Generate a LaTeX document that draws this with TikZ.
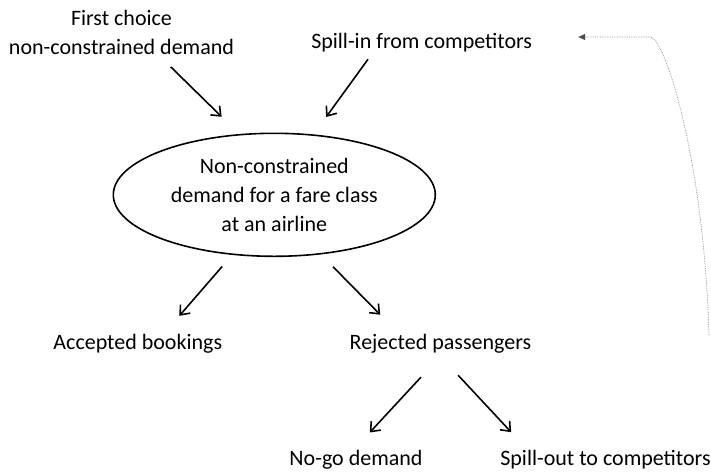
\documentclass[tikz,border=0pt]{standalone}
\usepackage{fontspec}
\setmainfont{Carlito}
\usetikzlibrary{shapes.geometric, arrows.meta, positioning}
\tikzset{every node/.style={font=\fontsize{22}{29}\selectfont, inner sep=2pt},
  label/.style={text height=16pt, text depth=5pt},
  flow/.style={-{Straight Barb[length=8pt,width=13pt]}, line width=1.6pt},
  back/.style={-{Triangle[length=7pt,width=6pt,black!70]}, densely dotted, line width=0.7pt, draw=black!45}}

\begin{document}
\begin{tikzpicture}[x=1pt,y=1pt]
  \useasboundingbox (0,0) rectangle (711,-472);
  \node[ellipse, draw, line width=1.6pt, minimum width=322pt, minimum height=123pt, inner sep=0pt,
    align=center] (demand) at (274.3,-194.8)
    {Non-constrained\\demand for a fare class\\at an airline};
  \node[above of=demand, node distance=162.3pt, xshift=-152.8pt, align=center] (first)
    {First choice\\non-constrained demand};
  \node[label, above of=demand, node distance=152pt, xshift=147.4pt] (spillin) {Spill-in from competitors};
  \node[label, below of=demand, node distance=148.7pt, xshift=-136.5pt] (accepted) {Accepted bookings};
  \node[label, below of=demand, node distance=148.7pt, xshift=166.1pt] (rejected) {Rejected passengers};
  \node[label, below of=rejected, node distance=116.5pt, xshift=-84.4pt] (nogo) {No-go demand};
  \node[label, below of=rejected, node distance=116.5pt, xshift=165.1pt] (spillout) {Spill-out to competitors};
  % into the fare class
  \draw[flow, shorten <=14.3pt, shorten >=24.6pt] (first.-32) -- (demand.120);
  \draw[flow, shorten <=4.6pt, shorten >=21.5pt] (spillin.194) -- (demand.57.5);
  % out of the fare class
  \draw[flow, shorten <=15.3pt, shorten >=19.8pt] (demand.-125) -- (accepted.24);
  \draw[flow, shorten <=17.3pt, shorten >=22.6pt] (demand.-52) -- (rejected.164);
  \draw[flow, shorten <=28.6pt, shorten >=20.2pt] (rejected.south) -- (nogo.north);
  \draw[flow, shorten <=26pt, shorten >=20.7pt] (rejected.south) -- (spillout.171);
  % spill back to competitors
  \coordinate (spillback) at (709,-335);
  \draw[back, shorten >=43.8pt] (spillback) .. controls (704,-160) and (665,-37) .. (650,-37)
    -- ([yshift=5.8pt]spillin.east);
\end{tikzpicture}
\end{document}
